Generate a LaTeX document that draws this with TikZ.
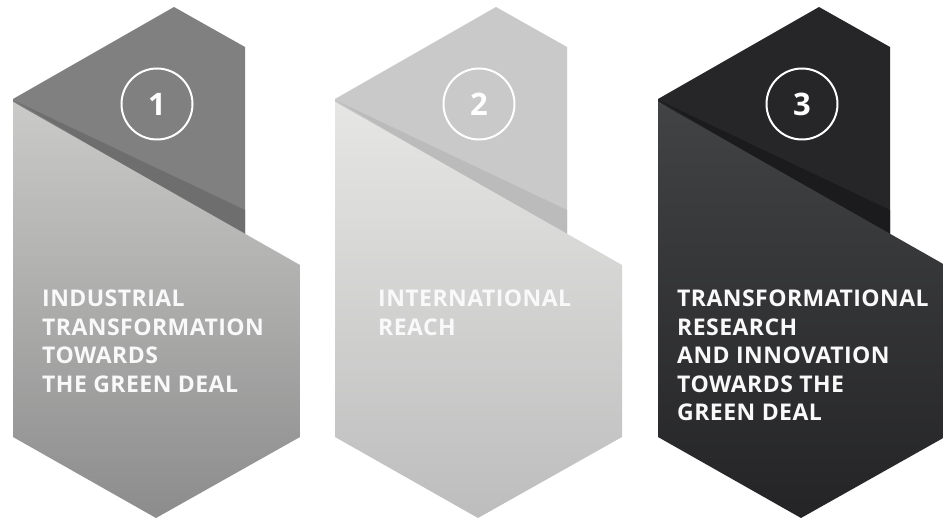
\documentclass[tikz,border=0pt]{standalone}
\usepackage{fontspec}
\setmainfont{Open Sans}
\newfontfamily\paneltextfont[LetterSpace=2]{Open Sans}
\tikzset{
  numcirc/.style={circle, draw=white, line width=2pt, minimum size=71pt, inner sep=0pt,
    text=white, font=\fontsize{31}{31}\selectfont\bfseries},
  paneltext/.style={anchor=north west, inner sep=0pt, align=left, text=white!95!gray,
    font=\paneltextfont\fontsize{23}{28.5}\selectfont\bfseries}
}
\newcommand\drawpanel[6]{%
  \begin{scope}[xshift=#1pt]
    \fill[#2] (0,99) -- (161,7) -- (232,47) -- (232,240) -- (0,102) -- cycle;
    \fill[#3] (0,100) -- (232,210) -- (232,236) -- cycle;
    \path[top color=#4, bottom color=#5] (0,102) -- (287,265) -- (287,437) -- (143,518) -- (0,437) -- cycle;
    \node[numcirc] (n#6) at (144,104) {#6};
  \end{scope}}
\begin{document}
\begin{tikzpicture}[x=1pt,y=-1pt]
\useasboundingbox (0,0) rectangle (943,521);
\clip (0,0) rectangle (943,521);
\fill[white] (0,0) rectangle (943,521);
\definecolor{backA}{HTML}{808080}
\definecolor{shadA}{HTML}{6E6E6E}
\definecolor{topA}{HTML}{CACBC9}
\definecolor{botA}{HTML}{8C8C8C}
\definecolor{backB}{HTML}{C9C9C9}
\definecolor{shadB}{HTML}{BBBBBB}
\definecolor{topB}{HTML}{E6E6E5}
\definecolor{botB}{HTML}{BDBDBD}
\definecolor{backC}{HTML}{262628}
\definecolor{shadC}{HTML}{1B1B1D}
\definecolor{topC}{HTML}{424345}
\definecolor{botC}{HTML}{242426}
\drawpanel{13}{backA}{shadA}{topA}{botA}{1}
\drawpanel{335}{backB}{shadB}{topB}{botB}{2}
\drawpanel{658}{backC}{shadC}{topC}{botC}{3}
\node[paneltext] (t1) at (42,290) {INDUSTRIAL\\TRANSFORMATION\\TOWARDS\\THE GREEN DEAL};
\node[paneltext] (t2) at (378,290) {INTERNATIONAL\\REACH};
\node[paneltext] (t3) at (677,290) {TRANSFORMATIONAL\\RESEARCH\\AND INNOVATION\\TOWARDS THE\\GREEN DEAL};
\end{tikzpicture}
\end{document}
